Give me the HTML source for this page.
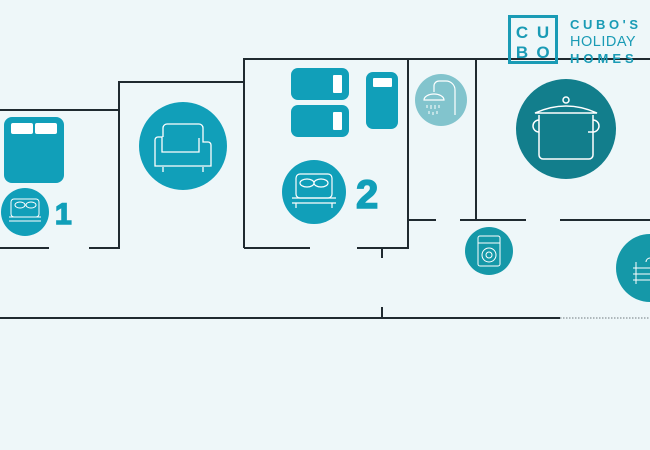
<!DOCTYPE html>
<html><head><meta charset="utf-8"><style>
html,body{margin:0;padding:0;background:#eef7f9;}
svg{display:block;}
</style></head><body>
<svg width="650" height="450" viewBox="0 0 650 450" xmlns="http://www.w3.org/2000/svg">
<rect width="650" height="450" fill="#eef7f9"/>
<g stroke="#1f2a30" stroke-width="2" fill="none">
<polyline points="0,110 119,110 119,82 244,82 244,59 650,59"/>
<line x1="119" y1="82" x2="119" y2="248"/>
<line x1="244" y1="59" x2="244" y2="248"/>
<line x1="408" y1="59" x2="408" y2="248"/>
<line x1="476" y1="59" x2="476" y2="220"/>
<line x1="0" y1="248" x2="49" y2="248"/>
<line x1="89" y1="248" x2="120" y2="248"/>
<line x1="244" y1="248" x2="310" y2="248"/>
<line x1="357" y1="248" x2="409" y2="248"/>
<line x1="382" y1="248" x2="382" y2="258"/>
<line x1="382" y1="307" x2="382" y2="318"/>
<line x1="408" y1="220" x2="436" y2="220"/>
<line x1="460" y1="220" x2="526" y2="220"/>
<line x1="560" y1="220" x2="650" y2="220"/>
<line x1="0" y1="318" x2="560" y2="318"/>
</g>
<line x1="560" y1="318" x2="650" y2="318" stroke="#9aa4a8" stroke-width="1.5" stroke-dasharray="1.5,1.5"/>
<!-- bed 1 -->
<rect x="4" y="117" width="60" height="66" rx="8" fill="#119fb9"/>
<rect x="11" y="123" width="22" height="11" rx="2" fill="#fff"/>
<rect x="35" y="123" width="22" height="11" rx="2" fill="#fff"/>
<circle cx="25" cy="212" r="24" fill="#119fb9"/>
<g stroke="#fff" stroke-width="1" fill="none">
<rect x="11" y="199" width="28" height="18" rx="3"/><line x1="9" y1="217" x2="41" y2="217"/><line x1="9" y1="221" x2="41" y2="221"/>
<ellipse cx="20" cy="205" rx="5" ry="3"/><ellipse cx="31" cy="205" rx="5" ry="3"/>
</g>
<text x="55" y="224" font-family="Liberation Sans,sans-serif" font-weight="bold" font-size="30" fill="#119fb9" stroke="#119fb9" stroke-width="1.5">1</text>
<!-- sofa -->
<circle cx="183" cy="146" r="44" fill="#119fb9"/>
<g stroke="#fff" stroke-width="1.3" fill="none">
<path d="M163,137 v-9 a4,4 0 0 1 4,-4 h32 a4,4 0 0 1 4,4 v14 h5 a3,3 0 0 1 3,3 v21 h-56 v-26 a3,3 0 0 1 3,-3 h4 v15 h37 v-14"/>
<line x1="163" y1="167" x2="163" y2="172"/><line x1="203" y1="167" x2="203" y2="172"/>
</g>
<!-- bunks -->
<rect x="291" y="68" width="58" height="32" rx="7" fill="#119fb9"/>
<rect x="333" y="75" width="9" height="18" rx="1" fill="#fff"/>
<rect x="291" y="105" width="58" height="32" rx="7" fill="#119fb9"/>
<rect x="333" y="112" width="9" height="18" rx="1" fill="#fff"/>
<rect x="366" y="72" width="32" height="57" rx="7" fill="#119fb9"/>
<rect x="373" y="78" width="19" height="9" rx="1" fill="#fff"/>
<circle cx="314" cy="192" r="32" fill="#119fb9"/>
<g stroke="#fff" stroke-width="1.2" fill="none">
<rect x="296" y="174" width="36" height="24" rx="4"/><line x1="292" y1="198" x2="336" y2="198"/><line x1="292" y1="203" x2="336" y2="203"/>
<ellipse cx="307" cy="183" rx="7" ry="4"/><ellipse cx="321" cy="183" rx="7" ry="4"/>
<line x1="296" y1="203" x2="296" y2="208"/><line x1="332" y1="203" x2="332" y2="208"/>
</g>
<text x="356" y="208" font-family="Liberation Sans,sans-serif" font-weight="bold" font-size="40" fill="#119fb9" stroke="#119fb9" stroke-width="1.5">2</text>
<!-- shower -->
<circle cx="441" cy="100" r="26" fill="#82c4cd"/>
<g stroke="#fff" stroke-width="1.2" fill="none">
<path d="M434,92 v-6 a5,5 0 0 1 5,-5 h7 a9,9 0 0 1 9,9 v25"/>
<path d="M424,100 a10,6 0 0 1 20,0 z"/>
<path d="M427,105 v3 M431,105 v4 M435,105 v4 M439,105 v3 M429,111 v3 M433,112 v3 M437,111 v3" stroke-width="1"/>
</g>
<!-- pot -->
<circle cx="566" cy="129" r="50" fill="#127e8c"/>
<g stroke="#fff" stroke-width="1.5" fill="none">
<path d="M539,115 v40 a4,4 0 0 0 4,4 h46 a4,4 0 0 0 4,-4 v-40"/>
<path d="M535,113 q31,-14 62,0 z"/>
<circle cx="566" cy="100" r="3"/>
<path d="M539,120 a6,6 0 0 0 0,12"/><path d="M593,120 a6,6 0 0 1 0,12 h-5"/>
</g>
<!-- washer -->
<circle cx="489" cy="251" r="24" fill="#1598a8"/>
<g stroke="#fff" stroke-width="1" fill="none">
<rect x="478" y="236" width="22" height="30" rx="2"/><line x1="478" y1="243" x2="500" y2="243"/>
<circle cx="489" cy="255" r="7"/><circle cx="489" cy="255" r="3"/>
</g>
<!-- right circle -->
<circle cx="650" cy="268" r="34" fill="#1598a8"/>
<g stroke="#fff" stroke-width="1" fill="none">
<path d="M633,268 h17 M633,274 h17 M633,280 h17 M636,262 v22 M646,262 a4,4 0 0 1 8,0"/>
</g>
<!-- logo -->
<rect x="509.5" y="16.5" width="47" height="46" fill="none" stroke="#1a9bb5" stroke-width="3"/>
<g font-family="Liberation Sans,sans-serif" font-weight="bold" font-size="17" fill="#1a9bb5" text-anchor="middle">
<text x="522" y="38">C</text><text x="543" y="38">U</text><text x="522" y="58">B</text><text x="543" y="58">O</text>
</g>
<g font-family="Liberation Sans,sans-serif" fill="#1a9bb5">
<text x="570" y="29" font-size="13" font-weight="bold" letter-spacing="3.6">CUBO'S</text>
<text x="570" y="46" font-size="14.5" letter-spacing="0.5">HOLIDAY</text>
<text x="570" y="63" font-size="13" font-weight="bold" letter-spacing="4">HOMES</text>
</g>
</svg>
</body></html>
